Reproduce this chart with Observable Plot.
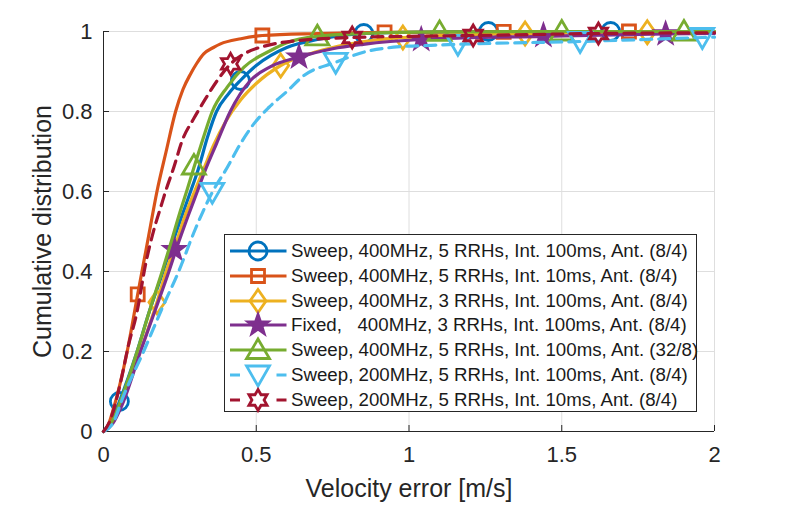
<!DOCTYPE html>
<html><head><meta charset="utf-8">
<script src="https://cdn.jsdelivr.net/npm/d3@7"></script>
<script src="https://cdn.jsdelivr.net/npm/@observablehq/plot@0.6"></script>
<style>
html,body{margin:0;padding:0;background:#fff;}
#wrap{position:relative;width:789px;height:511px;overflow:hidden;font-family:"Liberation Sans",Arial,Helvetica,sans-serif;}
#legend{position:absolute;left:224px;top:234px;width:471px;height:176px;border:1px solid #262626;background:#fff;}
#legend .row{position:absolute;left:0;height:24px;width:470px;}
#legend .row svg{position:absolute;left:0;top:0;overflow:visible;}
#legend .row span{position:absolute;left:66px;top:0;line-height:24px;font-size:18.7px;color:#1a1a1a;white-space:pre;}
</style></head><body><div id="wrap"></div>
<script>
// ---------- data ----------
const xTicks = [0, 0.5, 1, 1.5, 2];
const yTicks = [0, 0.2, 0.4, 0.6, 0.8, 1];
const xLabel = "Velocity error [m/s]";
const yLabel = "Cumulative distribution";
const seriesNames = [
  "Sweep, 400MHz, 5 RRHs, Int. 100ms, Ant. (8/4)",
  "Sweep, 400MHz, 5 RRHs, Int. 10ms, Ant. (8/4)",
  "Sweep, 400MHz, 3 RRHs, Int. 100ms, Ant. (8/4)",
  "Fixed,   400MHz, 3 RRHs, Int. 100ms, Ant. (8/4)",
  "Sweep, 400MHz, 5 RRHs, Int. 100ms, Ant. (32/8)",
  "Sweep, 200MHz, 5 RRHs, Int. 100ms, Ant. (8/4)",
  "Sweep, 200MHz, 5 RRHs, Int. 10ms, Ant. (8/4)"
];
const colors = ["#0072BD", "#D95319", "#EDB120", "#7E2F8E", "#77AC30", "#4DBEEE", "#A2142F"];
const dashed = [false, false, false, false, false, true, true];

// curve points (x, CDF)
const blueX = [0, 0.028, 0.052, 0.11, 0.15, 0.195, 0.225, 0.263, 0.285, 0.31, 0.34, 0.37, 0.41, 0.448, 0.5, 0.6, 0.7, 0.85, 1.0, 1.26, 1.66, 2];
const blueY = [0, 0.03, 0.075, 0.2, 0.3, 0.4, 0.47, 0.5525, 0.6, 0.655, 0.735, 0.8, 0.845, 0.8775, 0.915, 0.96, 0.98, 0.995, 0.998, 1, 1, 1];
const orangeX = [0, 0.015, 0.03, 0.0775, 0.112, 0.148, 0.175, 0.205, 0.236, 0.26, 0.285, 0.305, 0.328, 0.36, 0.383, 0.45, 0.52, 0.7, 0.92, 1.31, 1.72, 2];
const orangeY = [0, 0.015, 0.05, 0.2, 0.343, 0.49, 0.6, 0.7, 0.8, 0.855, 0.894, 0.92, 0.944, 0.96, 0.969, 0.982, 0.99, 0.995, 0.998, 0.999, 1, 1];
const yellowX = [0, 0.03, 0.06, 0.115, 0.175, 0.205, 0.235, 0.265, 0.298, 0.33, 0.36, 0.4, 0.45, 0.5, 0.58, 0.7, 0.8, 0.98, 1.38, 1.78, 2];
const yellowY = [0, 0.022, 0.07, 0.19, 0.323, 0.4, 0.465, 0.535, 0.6, 0.66, 0.715, 0.775, 0.83, 0.87, 0.915, 0.95, 0.968, 0.985, 0.995, 0.998, 1];
const purpleX = [0, 0.03, 0.06, 0.121, 0.17, 0.214, 0.24, 0.275, 0.307, 0.334, 0.37, 0.415, 0.481, 0.547, 0.64, 0.75, 0.85, 1.04, 1.44, 1.84, 2];
const purpleY = [0, 0.02, 0.065, 0.2, 0.305, 0.4, 0.46, 0.535, 0.6, 0.655, 0.72, 0.8, 0.8775, 0.912, 0.936, 0.957, 0.968, 0.98, 0.988, 0.994, 0.995];
const greenX = [0, 0.028, 0.06, 0.11, 0.15, 0.192, 0.22, 0.252, 0.274, 0.296, 0.325, 0.356, 0.405, 0.46, 0.547, 0.6, 0.7, 0.85, 1.1, 1.5, 2];
const greenY = [0, 0.025, 0.085, 0.2, 0.3, 0.4, 0.47, 0.5525, 0.605, 0.66, 0.73, 0.8, 0.861, 0.911, 0.9525, 0.972, 0.988, 0.995, 0.999, 1, 1];
const cyanX = [0, 0.03, 0.066, 0.137, 0.19, 0.246, 0.3, 0.356, 0.405, 0.448, 0.492, 0.541, 0.6, 0.656, 0.76, 0.86, 0.97, 1.06, 1.16, 1.56, 1.96, 2];
const cyanY = [0, 0.02, 0.09, 0.21, 0.305, 0.4, 0.505, 0.598, 0.66, 0.719, 0.769, 0.81, 0.85, 0.89, 0.923, 0.95, 0.962, 0.965, 0.968, 0.975, 0.985, 0.986];
const redX = [0, 0.02, 0.056, 0.08, 0.11, 0.137, 0.167, 0.187, 0.203, 0.23, 0.258, 0.296, 0.334, 0.372, 0.416, 0.47, 0.525, 0.645, 0.814, 1.0, 1.21, 1.62, 2];
const redY = [0, 0.025, 0.123, 0.21, 0.3, 0.415, 0.51, 0.56, 0.6, 0.66, 0.728, 0.783, 0.832, 0.877, 0.919, 0.948, 0.963, 0.978, 0.985, 0.988, 0.99, 0.995, 0.997];

// marker positions
const blueMX = [0.052, 0.448, 0.852, 1.26, 1.66];
const blueMY = [0.075, 0.8775, 0.995, 1.0, 1.0];
const orangeMX = [0.112, 0.52, 0.92, 1.31, 1.72];
const orangeMY = [0.343, 0.99, 0.998, 0.999, 1.0];
const yellowMX = [0.175, 0.58, 0.98, 1.38, 1.78];
const yellowMY = [0.323, 0.915, 0.985, 0.995, 0.998];
const purpleMX = [0.232, 0.64, 1.04, 1.44, 1.84];
const purpleMY = [0.455, 0.936, 0.98, 0.99, 0.994];
const greenMX = [0.296, 0.70, 1.1, 1.5, 1.9];
const greenMY = [0.665, 0.988, 0.999, 1.0, 1.0];
const cyanMX = [0.356, 0.76, 1.16, 1.56, 1.96];
const cyanMY = [0.598, 0.923, 0.968, 0.975, 0.985];
const redMX = [0.416, 0.814, 1.21, 1.62];
const redMY = [0.919, 0.985, 0.99, 0.995];

// ---------- symbols (MATLAB-like) ----------
function mk(fn) { return { draw(ctx, size) { const k = Math.sqrt(size / Math.PI) / 10; fn(ctx, k); } }; }
function starPath(c, n, ro, ri, rot) {
  for (let i = 0; i < 2 * n; i++) {
    const r = i % 2 ? ri : ro, a = rot + i * Math.PI / n;
    const x = r * Math.cos(a), y = r * Math.sin(a);
    if (i) c.lineTo(x, y); else c.moveTo(x, y);
  }
  c.closePath();
}
const symCircle = mk((c, k) => { c.moveTo(9 * k, 0); c.arc(0, 0, 9 * k, 0, 2 * Math.PI); c.closePath(); });
const symSquare = mk((c, k) => { const s = 6.5 * k; c.moveTo(-s, -s); c.lineTo(s, -s); c.lineTo(s, s); c.lineTo(-s, s); c.closePath(); });
const symDiamond = mk((c, k) => { c.moveTo(0, -11.5 * k); c.lineTo(8 * k, 0); c.lineTo(0, 11.5 * k); c.lineTo(-8 * k, 0); c.closePath(); });
const symStar = mk((c, k) => starPath(c, 5, 10.5 * k, 4.2 * k, -Math.PI / 2));
const symTri = mk((c, k) => { c.moveTo(0, -11 * k); c.lineTo(11.5 * k, 8.5 * k); c.lineTo(-11.5 * k, 8.5 * k); c.closePath(); });
const symTriDown = mk((c, k) => { c.moveTo(0, 11 * k); c.lineTo(11.5 * k, -9 * k); c.lineTo(-11.5 * k, -9 * k); c.closePath(); });
const symHex = mk((c, k) => starPath(c, 6, 10.5 * k, 6.06 * k, -Math.PI / 2));

const series = [
  {xs: blueX, ys: blueY, mx: blueMX, my: blueMY, sym: symCircle, filled: false},
  {xs: orangeX, ys: orangeY, mx: orangeMX, my: orangeMY, sym: symSquare, filled: false},
  {xs: yellowX, ys: yellowY, mx: yellowMX, my: yellowMY, sym: symDiamond, filled: false},
  {xs: purpleX, ys: purpleY, mx: purpleMX, my: purpleMY, sym: symStar, filled: true},
  {xs: greenX, ys: greenY, mx: greenMX, my: greenMY, sym: symTri, filled: false},
  {xs: cyanX, ys: cyanY, mx: cyanMX, my: cyanMY, sym: symTriDown, filled: false},
  {xs: redX, ys: redY, mx: redMX, my: redMY, sym: symHex, filled: false}
].map((s, i) => ({...s, name: seriesNames[i], color: colors[i], dash: dashed[i] ? "11,7" : null}));

const axisColor = "#262626";
const marks = [
  Plot.ruleX(xTicks, {stroke: "#dedede", strokeWidth: 1}),
  Plot.ruleY(yTicks, {stroke: "#dedede", strokeWidth: 1}),
  Plot.ruleX([0], {stroke: axisColor, strokeWidth: 1}),
  Plot.ruleY([0], {stroke: axisColor, strokeWidth: 1}),
  Plot.axisX(xTicks, {tickSize: -6, tickPadding: 21, tickFormat: d => String(d), fontSize: 22, label: null}),
  Plot.axisY(yTicks, {tickSize: -6, tickPadding: 17, tickFormat: d => String(d), fontSize: 22, label: null}),
  Plot.axisX([], {tickSize: 0, label: xLabel, labelAnchor: "center", labelOffset: 65, labelArrow: "none", fontSize: 25}),
  Plot.axisY([], {tickSize: 0, label: yLabel, labelAnchor: "center", labelOffset: 70, labelArrow: "none", fontSize: 25})
];
for (const s of series) {
  const pts = s.xs.map((x, i) => ({x, y: s.ys[i]}));
  const mpts = s.mx.map((x, i) => ({x, y: s.my[i]}));
  marks.push(Plot.line(pts, {x: "x", y: "y", stroke: s.color, strokeWidth: 3.2, strokeDasharray: s.dash, curve: "monotone-x"}));
  marks.push(Plot.dot(mpts, {x: "x", y: "y", r: 10, symbol: s.sym, stroke: s.color, strokeWidth: 2.8, fill: s.filled ? s.color : "none"}));
}

const chart = Plot.plot({
  width: 789, height: 511,
  marginLeft: 103, marginRight: 75, marginTop: 31, marginBottom: 80,
  x: {domain: [0, 2]},
  y: {domain: [0, 1]},
  style: {fontFamily: '"Liberation Sans", Arial, Helvetica, sans-serif', color: axisColor, background: "#fff", overflow: "visible"},
  marks
});
const wrap = document.getElementById("wrap");
wrap.appendChild(chart);

// ---------- legend (inside the axes, as in the reference) ----------
const leg = d3.select(wrap).append("div").attr("id", "legend");
series.forEach((s, i) => {
  const row = leg.append("div").attr("class", "row").style("top", (16.2 + i * 24.75 - 12) + "px");
  const svg = row.append("svg").attr("width", 64).attr("height", 24);
  svg.append("line").attr("x1", 5).attr("x2", 61.5).attr("y1", 12).attr("y2", 12)
    .attr("stroke", s.color).attr("stroke-width", 3.2)
    .attr("stroke-dasharray", s.dash ? "10,36.5,10" : null);
  const p = d3.path();
  s.sym.draw(p, 100 * Math.PI);
  svg.append("path").attr("d", p.toString()).attr("transform", "translate(33,12)")
    .attr("fill", s.filled ? s.color : "none").attr("stroke", s.color).attr("stroke-width", 2.8);
  row.append("span").text(s.name);
});
</script></body></html>
